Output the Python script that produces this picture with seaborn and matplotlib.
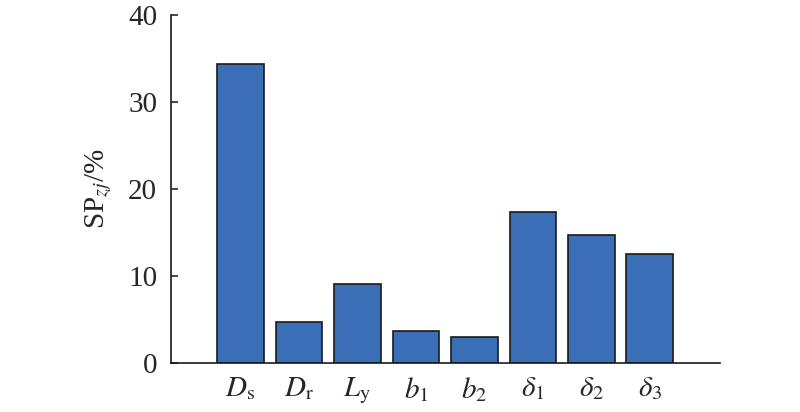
import numpy as np
import pandas as pd
import matplotlib
matplotlib.use('Agg')
import matplotlib.pyplot as plt
import seaborn as sns

# data
labels = [r'$D_\mathrm{s}$', r'$D_\mathrm{r}$', r'$L_\mathrm{y}$', r'$b_1$',
          r'$b_2$', r'$\delta_1$', r'$\delta_2$', r'$\delta_3$']
values = [34.3, 4.75, 9.1, 3.7, 3.0, 17.3, 14.7, 12.5]

sns.set_style('ticks')
plt.rcParams['font.family'] = ['Liberation Serif', 'DejaVu Serif']
plt.rcParams['mathtext.fontset'] = 'stix'

df = pd.DataFrame({'param': labels, 'sp': values})

fig = plt.figure(figsize=(8, 4.12), dpi=100)
ax = fig.add_axes([0.21375, 0.119, 0.68625, 0.845])
sns.barplot(data=df, x='param', y='sp', color='#3A6FB8', saturation=1,
            edgecolor='#1a1a1a', linewidth=1.2, width=0.8, ax=ax)

ax.set_xlim(-1.19, 8.2)
ax.set_ylim(0, 40)
ax.set_yticks([0, 10, 20, 30, 40])
ax.set_xlabel('')
ax.set_ylabel(r'SP$_{zj}$/%', fontsize=21, labelpad=10)
ax.tick_params(axis='both', direction='in', labelsize=21, length=5, width=1.2)
ax.tick_params(axis='x', pad=9)
ax.tick_params(axis='y', pad=10)
for s in ['top', 'right']:
    ax.spines[s].set_visible(False)
for s in ['left', 'bottom']:
    ax.spines[s].set_linewidth(1.2)
    ax.spines[s].set_color('#1a1a1a')

fig.savefig('out.png', dpi=100)
